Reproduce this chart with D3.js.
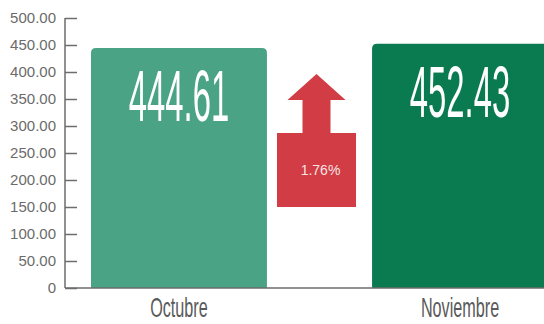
<!DOCTYPE html>
<html>
<head>
<meta charset="utf-8">
<script src="https://cdn.jsdelivr.net/npm/d3@7"></script>
<style>
  html, body { margin: 0; padding: 0; background: #fff; }
  svg { display: block; }
</style>
</head>
<body>
<svg id="chart" width="544" height="324"></svg>
<script>
// Monthly values
const categories = ["Octubre", "Noviembre"];
const values = [444.61, 452.43];
const barColors = ["#4aa384", "#0a7a50"];
const yTicks = [0, 50, 100, 150, 200, 250, 300, 350, 400, 450, 500];

const svg = d3.select("#chart");
const W = 544, H = 324;

const y = d3.scaleLinear().domain([0, 500]).range([288, 18]);
const x = d3.scaleBand()
  .domain(categories)
  .range([65, 574])
  .paddingInner(0.374)
  .paddingOuter(0.0925);

const g = svg.append("g");

// Bars with rounded top corners
const r = 5;
function barPath(x0, w, yTop, yBot) {
  return `M${x0},${yBot} L${x0},${yTop + r} Q${x0},${yTop} ${x0 + r},${yTop}
          L${x0 + w - r},${yTop} Q${x0 + w},${yTop} ${x0 + w},${yTop + r}
          L${x0 + w},${yBot} Z`;
}
g.selectAll("path.bar")
  .data(categories)
  .join("path")
  .attr("class", "bar")
  .attr("fill", (d, i) => barColors[i])
  .attr("d", (d, i) => barPath(x(d), x.bandwidth(), y(values[i]), y(0)));

// Value labels inside bars (tall condensed numerals)
g.selectAll("text.val")
  .data(categories)
  .join("text")
  .attr("class", "val")
  .attr("transform", (d, i) => `translate(${x(d) + x.bandwidth() / 2},${y(values[i]) + 73}) scale(0.45,1)`)
  .attr("text-anchor", "middle")
  .attr("font-family", "Liberation Sans, Arial, sans-serif")
  .attr("font-size", 73)
  .attr("fill", "#ffffff")
  .text((d, i) => values[i].toFixed(2));

// Y axis
const yAxis = d3.axisLeft(y)
  .tickValues(yTicks)
  .tickSize(0)
  .tickPadding(9)
  .tickFormat(d => d === 0 ? "0" : d3.format(".2f")(d));
const ya = g.append("g").attr("transform", "translate(65,0)").call(yAxis);
ya.select(".domain").remove();
ya.selectAll("text")
  .attr("font-family", "Liberation Sans, Arial, sans-serif")
  .attr("font-size", 15)
  .attr("fill", "#6b6b6b");
ya.selectAll(".tick").append("line")
  .attr("x1", 0).attr("x2", 12)
  .attr("stroke", "#6d6d6d").attr("stroke-width", 1.5);
g.append("line")
  .attr("x1", 65).attr("x2", 65)
  .attr("y1", y(500)).attr("y2", y(0))
  .attr("stroke", "#6d6d6d").attr("stroke-width", 1.5);

// X axis baseline and category labels
g.append("line")
  .attr("x1", 65).attr("x2", W)
  .attr("y1", y(0)).attr("y2", y(0))
  .attr("stroke", "#6d6d6d").attr("stroke-width", 1.5);
g.selectAll("text.cat")
  .data(categories)
  .join("text")
  .attr("class", "cat")
  .attr("transform", d => `translate(${x(d) + x.bandwidth() / 2},317) scale(0.6,1)`)
  .attr("text-anchor", "middle")
  .attr("font-family", "Liberation Sans, Arial, sans-serif")
  .attr("font-size", 27)
  .attr("fill", "#5a5a5a")
  .text(d => d);

// Change arrow between the bars
const change = (values[1] - values[0]) / values[0] * 100;
const cx = (x(categories[0]) + x.bandwidth() + x(categories[1])) / 2 - 3;
const boxW = 79, shaftW = 28, headW = 58;
const tipY = 74, headBaseY = 100, boxTop = 133, boxBot = 207;
const arrow = [
  [cx, tipY],
  [cx + headW / 2, headBaseY],
  [cx + shaftW / 2, headBaseY],
  [cx + shaftW / 2, boxTop],
  [cx + boxW / 2, boxTop],
  [cx + boxW / 2, boxBot],
  [cx - boxW / 2, boxBot],
  [cx - boxW / 2, boxTop],
  [cx - shaftW / 2, boxTop],
  [cx - shaftW / 2, headBaseY],
  [cx - headW / 2, headBaseY]
];
g.append("path")
  .attr("d", d3.line()(arrow) + "Z")
  .attr("fill", "#d13c45");
g.append("text")
  .attr("x", cx + 4)
  .attr("y", 175)
  .attr("text-anchor", "middle")
  .attr("font-family", "Liberation Sans, Arial, sans-serif")
  .attr("font-size", 14)
  .attr("fill", "#f8e4e4")
  .text(change.toFixed(2) + "%");
</script>
</body>
</html>
